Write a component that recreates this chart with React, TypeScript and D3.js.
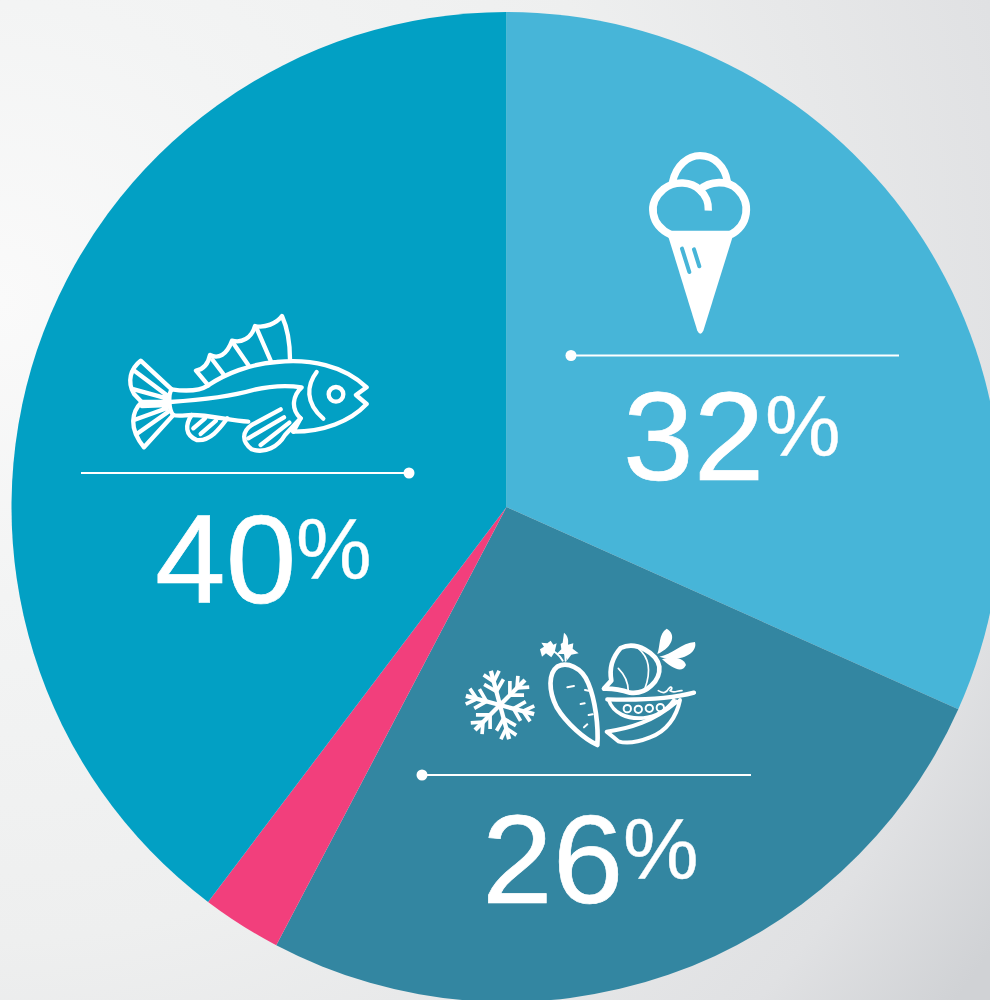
import React from "react";
import * as d3 from "d3";

// Category shares as measured from the slice boundaries
const categories = ["Ice cream", "Frozen vegetables", "Other", "Fish"];
const sliceValues = [31.7, 26, 2.6, 39.7];
const sliceColors = ["#47B5D8", "#3386A1", "#F23F7C", "#02A0C4"];
const labelTexts = ["32", "26", "", "40"];

const W = 990;
const H = 1000;
const cx = 506.5;
const cy = 507;
const R = 495;
const white = "#FFFFFF";
const FONT = "'Liberation Sans', Arial, sans-serif";

function Label({ x, y, num, pctX, lineX1, lineX2, lineY, dotX }: any) {
  return (
    <g>
      <line x1={lineX1} x2={lineX2} y1={lineY} y2={lineY} stroke={white} strokeWidth={1.8} />
      <circle cx={dotX} cy={lineY} r={5.5} fill={white} />
      <text x={x} y={y} fontFamily={FONT} fontSize={127} fill={white} stroke={white} strokeWidth={0.7}>
        {num}
      </text>
      <text x={pctX} y={y - 24} fontFamily={FONT} fontSize={85} fill={white} stroke={white} strokeWidth={0.4}>
        %
      </text>
    </g>
  );
}

function Fish() {
  const s = { fill: "none", stroke: white, strokeWidth: 13, strokeLinecap: "round", strokeLinejoin: "round" } as any;
  return (
    <g transform="translate(110,300) scale(0.3333)" {...s}>
      {/* back, head, mouth, belly */}
      <path d="M185,268 C225,274 270,272 295,256 C345,222 420,192 500,186 C600,176 700,195 770,262 L738,285 L770,312 C720,365 640,395 550,395" />
      <path d="M180,306 C270,300 360,290 430,270 C480,258 530,255 575,262 C550,285 540,325 572,355 L550,395" />
      <path d="M620,216 C590,255 585,310 640,356" />
      <circle cx={678} cy={283} r={22} />
      {/* dorsal fin */}
      <path d="M295,256 L258,212 C280,208 295,190 300,165 C325,178 350,165 366,122 C395,130 425,115 435,78 C465,85 500,70 516,48 C535,90 540,135 540,178" />
      <path d="M308,180 L340,222 M370,130 L415,195 M440,85 L482,182" />
      {/* tail */}
      <path d="M185,268 L92,182 C62,205 50,245 72,282 L95,306 C65,335 55,385 102,442 L190,345 C175,330 175,280 185,268 Z" />
      <path d="M70,210 L170,285 M72,268 L170,295 M95,306 L170,305 M95,318 L170,315 M72,360 L170,325 M80,402 L175,335" />
      {/* ventral fin */}
      <path d="M188,345 C210,350 225,345 245,345 C300,345 360,362 415,365" />
      <path d="M245,345 C225,375 225,405 260,420 C300,425 330,385 352,355" />
      <path d="M250,385 L285,355 M272,402 L318,362" />
      {/* pectoral fin */}
      <path d="M512,328 L425,375 C395,395 395,425 425,448 C465,462 505,440 525,405 L572,355" />
      <path d="M415,415 L522,352 M452,435 L538,368" />
    </g>
  );
}

function IceCream({ bg }: { bg: string }) {
  return (
    <g transform="translate(620,140) scale(0.3333)">
      <path d="M150,272 L330,272 L338,290 L250,572 Q241,590 232,572 L145,290 Z" fill={white} />
      <path d="M152,284 C92,255 80,190 130,148 C165,120 215,125 240,150 C268,122 325,120 352,148 C395,190 385,255 332,284" fill="none" stroke={white} strokeWidth={23} />
      <path d="M240,150 C262,170 266,190 265,212" fill="none" stroke={white} strokeWidth={22} />
      <path d="M157,128 C168,75 205,47 240,47 C282,47 315,78 322,125" fill="none" stroke={white} strokeWidth={22} />
      <path d="M186,326 L208,396 M222,328 L238,379" stroke={bg} strokeWidth={12} strokeLinecap="round" fill="none" />
    </g>
  );
}

const flakeAngles = [0, 60, 120, 180, 240, 300];

function Vegetables() {
  const s = { fill: "none", stroke: white, strokeLinecap: "round", strokeLinejoin: "round" } as any;
  return (
    <g transform="translate(450,620) scale(0.3333)">
      {/* snowflake */}
      <g transform="translate(150,255) rotate(-15)" {...s} strokeWidth={13} strokeLinecap="butt">
        {flakeAngles.map((a) => (
          <g key={a} transform={`rotate(${a})`}>
            <path d="M0,0 L0,-106" />
            <path d="M0,-42 L-30,-72 M0,-42 L30,-72" strokeWidth={11} />
            <path d="M0,-72 L-24,-100 M0,-72 L24,-100" strokeWidth={11} />
          </g>
        ))}
      </g>
      {/* carrot */}
      <path d="M322,140 C295,160 295,212 320,262 C350,312 405,358 442,375 C446,320 436,240 415,190 C395,140 350,125 322,140 Z" {...s} strokeWidth={14} />
      <path d="M352,202 L372,198 M405,210 L416,212 M392,252 L404,250 M416,285 L428,283 M402,322 L412,313" {...s} strokeWidth={6} />
      <path d="M338,122 C330,105 320,102 310,92" {...s} strokeWidth={6} />
      <path d="M347,122 L345,85" {...s} strokeWidth={6} />
      {/* carrot leaves */}
      <path d="M314,96 L304,112 L288,100 L276,110 L270,88 L282,80 L274,68 L292,70 L302,62 L310,74 L320,70 Z" fill={white} />
      <path d="M342,38 C354,48 356,60 354,74 L370,70 L368,86 L386,100 L364,104 L352,120 L342,102 L320,102 L334,88 L332,72 L338,68 Z" fill={white} />
      {/* beet */}
      <path d="M512,84 C480,120 480,160 484,182 L462,206 C490,205 515,210 540,218 C590,225 632,180 628,140 C620,100 560,62 512,84 Z" {...s} strokeWidth={14} />
      <path d="M505,145 C525,165 535,190 535,214" {...s} strokeWidth={5} />
      <path d="M565,85 C595,110 605,150 585,205" {...s} strokeWidth={5} />
      {/* beet leaves */}
      <path d="M622,102 C632,75 625,42 650,26 C678,40 672,80 622,102 Z" fill={white} />
      <path d="M628,110 C665,105 695,68 735,66 C745,100 690,130 628,110 Z" fill={white} />
      <path d="M636,118 C665,108 700,112 708,135 C695,165 662,140 636,118 Z" fill={white} />
      {/* pea pod */}
      <path d="M472,238 C540,240 650,240 732,218" {...s} strokeWidth={13} />
      <path d="M476,240 C490,280 530,298 580,294 C620,290 650,270 672,240" {...s} strokeWidth={11} />
      <path d="M690,240 C680,290 650,335 600,352 C560,368 530,372 505,364 L470,335 C540,325 610,305 680,245" {...s} strokeWidth={12} />
      <circle cx={532} cy={266} r={11} {...s} strokeWidth={6} />
      <circle cx={565} cy={268} r={11} {...s} strokeWidth={6} />
      <circle cx={598} cy={265} r={11} {...s} strokeWidth={6} />
      <circle cx={631} cy={263} r={11} {...s} strokeWidth={6} />
      <path d="M625,212 C640,222 650,218 656,206 C664,195 670,205 660,212 C672,222 685,210 696,212" {...s} strokeWidth={5} />
    </g>
  );
}

export default function App() {
  const pie = d3.pie<number>().sort(null).startAngle(0).endAngle(2 * Math.PI);
  const arc = d3.arc<d3.PieArcDatum<number>>().innerRadius(0).outerRadius(R);
  const arcs = pie(sliceValues);

  return (
    <svg
      width={W}
      height={H}
      viewBox={`0 0 ${W} ${H}`}
      style={{ position: "absolute", left: 0, top: 0, display: "block" }}
    >
      <defs>
        <radialGradient id="bg" gradientUnits="userSpaceOnUse" cx={0} cy={300} r={1185}>
          <stop offset="0" stopColor="#FAFAFA" />
          <stop offset="0.25" stopColor="#F3F4F4" />
          <stop offset="0.54" stopColor="#EEEFEF" />
          <stop offset="0.87" stopColor="#E0E1E3" />
          <stop offset="1" stopColor="#D0D2D5" />
        </radialGradient>
      </defs>
      <rect width={W} height={H} fill="url(#bg)" />
      <g transform={`translate(${cx},${cy})`}>
        {arcs.map((d, i) => (
          <path key={categories[i]} d={arc(d) as string} fill={sliceColors[i]} />
        ))}
      </g>
      <IceCream bg={sliceColors[0]} />
      <Fish />
      <Vegetables />
      <Label x={623} y={480} pctX={765} num={labelTexts[0]} lineX1={571} lineX2={899} lineY={355.5} dotX={571} />
      <Label x={482} y={903} pctX={623} num={labelTexts[1]} lineX1={422} lineX2={751} lineY={775} dotX={422} />
      <Label x={155} y={603} pctX={296} num={labelTexts[3]} lineX1={81} lineX2={409} lineY={473} dotX={409} />
    </svg>
  );
}
